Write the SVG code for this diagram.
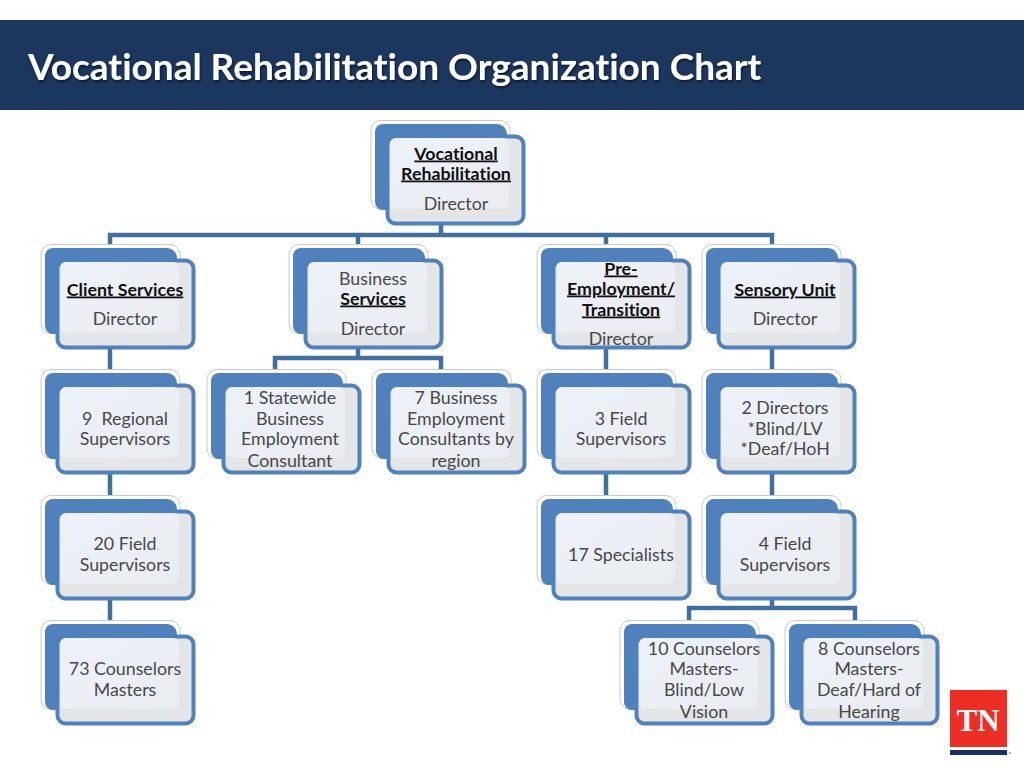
<svg xmlns="http://www.w3.org/2000/svg" width="1024" height="768" viewBox="0 0 1024 768">
<style>
text{font-family:Lato,"Open Sans","Liberation Sans",sans-serif;text-anchor:middle;font-size:17.800px;fill:#484848;font-variant-ligatures:none}
.b{font-weight:700;fill:#111;text-decoration:underline}
.t{font-size:37px;font-weight:700;fill:#fff;text-anchor:start}
.c{fill:none;stroke:#41709f;stroke-width:4.5}
</style>
<defs>
<filter id="s" x="-5%" y="-20%" width="110%" height="140%"><feDropShadow dx="1" dy="2" stdDeviation="1.2" flood-color="#000" flood-opacity=".55"/></filter>
<linearGradient id="g" x1="0" y1="0" x2="1" y2="1"><stop offset="0" stop-color="#edf2f8"/><stop offset="1" stop-color="#e9edf2"/></linearGradient>
<g id="n">
<rect x="0" y="0.5" width="139" height="89" rx="10" fill="#fff" stroke="#c9c9c9"/>
<path d="M12 4H126a10 10 0 0 1 10 10V90H12a8 8 0 0 1-8-8V12a8 8 0 0 1 8-8z" fill="#4f81bd"/>
<rect x="16.500" y="16.500" width="136" height="87" rx="8" fill="#e4e5e7" stroke="#4f81bd" stroke-width="4"/>
<rect x="19" y="18" width="119" height="71" rx="6" fill="url(#g)"/>
</g>
</defs>
<rect width="1024" height="768" fill="#fff"/>
<rect x="0" y="20" width="1024" height="90" fill="#1c375e"/>
<text class="t" x="28" y="80" filter="url(#s)">Vocational Rehabilitation Organization Chart</text>
<g id="connectors" class="c">
<path class="c" d="M441 222V235M110 248V235H772V248M358 235V248M606 235V248"/>
<path class="c" d="M110 347V373M606 347V373M772 347V373M358 347V358M275 372V358H441V372"/>
<path class="c" d="M110 472V498M606 472V498M772 472V498"/>
<path class="c" d="M110 598V623M772 598V608M689 623V608H855V623"/>
</g>
<g id="n-vr"><use href="#n" x="371" y="120"/><text class="b" x="456" y="159.500">Vocational</text><text class="b" x="456" y="179.500">Rehabilitation</text><text x="456" y="209.500">Director</text></g>
<g id="n-client"><use href="#n" x="41" y="244"/><text class="b" x="125" y="295.500">Client Services</text><text x="125" y="324.500">Director</text></g>
<g id="n-business"><use href="#n" x="289" y="244"/><text x="373" y="284.500">Business</text><text class="b" x="373" y="304.500">Services</text><text x="373" y="334.500">Director</text></g>
<g id="n-pre"><use href="#n" x="537" y="244"/><text class="b" x="621" y="274.500">Pre-</text><text class="b" x="621" y="294.500">Employment/</text><text class="b" x="621" y="315.500">Transition</text><text x="621" y="344.500">Director</text></g>
<g id="n-sensory"><use href="#n" x="702" y="244"/><text class="b" x="785" y="295.500">Sensory Unit</text><text x="785" y="324.500">Director</text></g>
<g id="n-regional"><use href="#n" x="41" y="369"/><text x="125" y="424.500" xml:space="preserve">9  Regional</text><text x="125" y="444.500">Supervisors</text></g>
<g id="n-statewide"><use href="#n" x="207" y="369"/><text x="290" y="403.500">1 Statewide</text><text x="290" y="424.500">Business</text><text x="290" y="444.500">Employment</text><text x="290" y="466.500">Consultant</text></g>
<g id="n-bec"><use href="#n" x="372" y="369"/><text x="456" y="403.500">7 Business</text><text x="456" y="424.500">Employment</text><text x="456" y="444.500">Consultants by</text><text x="456" y="466.500">region</text></g>
<g id="n-3field"><use href="#n" x="537" y="369"/><text x="621" y="424.500">3 Field</text><text x="621" y="444.500">Supervisors</text></g>
<g id="n-2dir"><use href="#n" x="702" y="369"/><text x="785" y="413.500">2 Directors</text><text x="785" y="434.500">*Blind/LV</text><text x="785" y="454.500">*Deaf/HoH</text></g>
<g id="n-20field"><use href="#n" x="41" y="495"/><text x="125" y="549.500">20 Field</text><text x="125" y="570.500">Supervisors</text></g>
<g id="n-17spec"><use href="#n" x="537" y="495"/><text x="621" y="560.500">17 Specialists</text></g>
<g id="n-4field"><use href="#n" x="702" y="495"/><text x="785" y="549.500">4 Field</text><text x="785" y="570.500">Supervisors</text></g>
<g id="n-73"><use href="#n" x="41" y="620"/><text x="125" y="674.500">73 Counselors</text><text x="125" y="695.500">Masters</text></g>
<g id="n-10"><use href="#n" x="620" y="620"/><text x="704" y="654.500">10 Counselors</text><text x="704" y="674.500">Masters-</text><text x="704" y="695.500">Blind/Low</text><text x="704" y="717.500">Vision</text></g>
<g id="n-8"><use href="#n" x="785" y="620"/><text x="869" y="654.500">8 Counselors</text><text x="869" y="674.500">Masters-</text><text x="869" y="695.500">Deaf/Hard of</text><text x="869" y="717.500">Hearing</text></g>
<g id="logo">
<rect x="950" y="690" width="57" height="57" fill="#ee2e24"/>
<rect x="950" y="750" width="57" height="5" fill="#14306b"/>
<circle cx="1010" cy="753" r="1" fill="#8a9ab8"/>
<text x="978" y="731" style="font-family:'Liberation Serif',serif;font-size:31px;font-weight:700;fill:#fff">TN</text>
</g>
</svg>
